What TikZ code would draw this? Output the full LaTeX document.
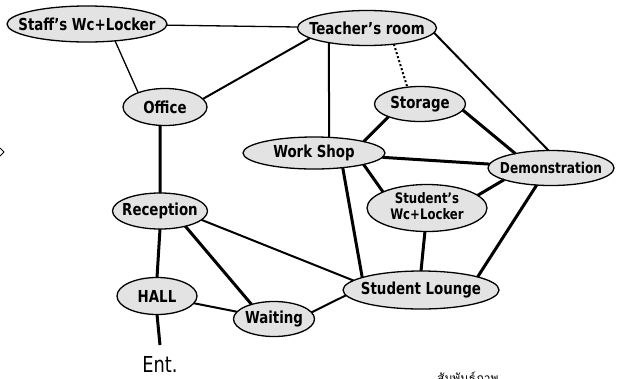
\documentclass[tikz,border=0pt]{standalone}
\usepackage{fontspec}
\setmainfont{DejaVu Sans Condensed}[FakeStretch=0.9]
\newfontfamily\thaifont[Script=Thai]{Loma}
\usetikzlibrary{shapes.geometric}
% zero-width label so the ellipse keeps the size given to it
\newcommand\lbl[1]{\makebox[0pt]{#1}}

\begin{document}
\begin{tikzpicture}[x=1pt,y=-1pt,
  room/.style={ellipse, draw=black, line width=1.3pt, fill=gray!22,
    inner sep=0pt, outer sep=0pt, font=\bfseries\fontsize{16.5}{18}\selectfont},
  thinlink/.style={line width=1.3pt},
  midlink/.style={line width=2pt},
  thicklink/.style={line width=3pt},
  dotlink/.style={line width=2pt, dash pattern=on 2pt off 2.2pt},
]
\useasboundingbox (0,0) rectangle (617,378);
\clip (0,0) rectangle (617,378);
\fill[white] (0,0) rectangle (617,378);

% rooms
\node[room, minimum width=160pt, minimum height=36pt] (staff)   at (87,24)   {\lbl{Staff's Wc+Locker}};
\node[room, minimum width=139pt, minimum height=35pt] (teacher) at (367,28)  {\lbl{Teacher's room}};
\node[room, minimum width=84pt,  minimum height=37pt] (office)  at (165,107) {\lbl{Office}};
\node[room, minimum width=91pt,  minimum height=35pt] (storage) at (420,104) {\lbl{Storage}};
\node[room, minimum width=142pt, minimum height=32pt] (workshop) at (314,153) {\lbl{Work Shop}};
\node[room, minimum width=126pt, minimum height=35pt,
      font=\bfseries\fontsize{15}{18}\selectfont] (demo) at (551,168) {\lbl{Demonstration}};
\node[room, minimum width=120pt, minimum height=47pt,
      font=\bfseries\fontsize{14.5}{15}\selectfont] (swc) at (427,208)
      {\lbl{\begin{tabular}{@{}c@{}}Student's\\Wc+Locker\end{tabular}}};
\node[room, minimum width=95pt,  minimum height=36pt] (reception) at (160,211) {\lbl{Reception}};
\node[room, minimum width=80pt,  minimum height=37pt] (hall)    at (157,296) {\lbl{HALL}};
\node[room, minimum width=81pt,  minimum height=35pt] (waiting) at (274,319) {\lbl{Waiting}};
\node[room, minimum width=156pt, minimum height=38pt] (lounge)  at (421,290) {\lbl{Student Lounge}};

\node[font=\fontsize{22}{24}\selectfont, inner sep=0pt] (ent) at (160,364) {Ent.};
\coordinate (entry) at (160,345);

% links between rooms
\draw[thinlink]  (staff) -- (teacher);
\draw[thinlink]  (staff.-31) -- (office.152);
\draw[midlink]   (office.12) -- (teacher.190);
\draw[thicklink] (office.255) -- (reception.north);
\draw[midlink]   (teacher.201) -- (workshop.46);
\draw[dotlink]   (teacher.-31) -- (storage.127);
\draw[midlink]   (teacher.-4) -- (demo.98);
\draw[thicklink] (storage.202) -- (workshop.13);
\draw[thicklink] (storage.-8) -- (demo.158);
\draw[thicklink] (workshop) -- (demo);
\draw[thicklink] (workshop.-13) -- (swc.160);
\draw[thicklink] (workshop.-27) -- (lounge.168);
\draw[thicklink] (demo.194) -- (swc.14);
\draw[thicklink] (demo.230) -- (lounge.13);
\draw[thicklink] (swc.265) -- (lounge.north);
\draw[midlink]   (reception.-12) -- (lounge.172);
\draw[thicklink] (reception.-31) -- (waiting.147);
\draw[thicklink] (reception.south) -- (hall.north);
\draw[midlink]   (hall) -- (waiting);
\draw[midlink]   (waiting.10) -- (lounge.184);
\draw[thicklink] (hall.south) -- (entry);

% stray arrow tip at the left margin
\draw[line width=1pt] (0,148) -- (4,152) -- (0,156);

% caption running off the lower edge
\node[anchor=base west, inner sep=0pt, font=\thaifont\fontsize{12}{14}\selectfont] (caption) at (437,382) {สัมพันธ์ภาพ};
\end{tikzpicture}
\end{document}
